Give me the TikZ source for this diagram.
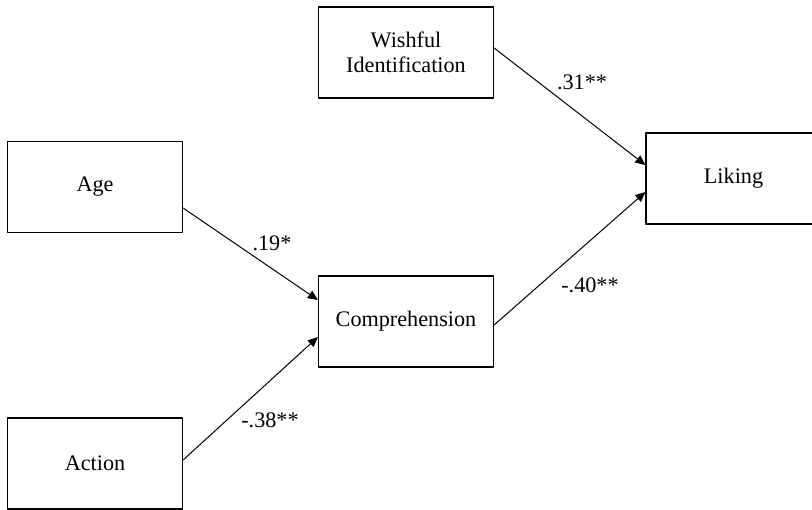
\documentclass[tikz,border=0pt]{standalone}
\usepackage{fontspec}
\setmainfont{Liberation Serif}
\usetikzlibrary{arrows.meta}

\begin{document}
\begin{tikzpicture}[
    x=0.5pt, y=-0.5pt,
    >={Triangle[length=5pt, width=4.4pt]},
    line join=round,
    font=\fontsize{11.1}{12.5}\selectfont,
    varbox/.style={draw, line width=0.6pt, minimum width=87.5pt, minimum height=45.5pt, inner sep=0pt, align=center},
    link/.style={->, line width=0.5pt},
    coef/.style={inner sep=0pt}
]

  % ==================== FRAME ====================
  \useasboundingbox (0,0) rectangle (812,509);

  % ==================== VARIABLES ====================
  \node[varbox] (wish)   at (406,52.5)   {Wishful\\Identification};
  \node[varbox] (age)    at (95,187)     {Age};
  \node[varbox] (comp)   at (406,321.5)  {Comprehension};
  \node[varbox] (liking) at (733.5,178.5) {Liking};
  \node[varbox] (action) at (95,463.5)   {Action};

  % ==================== PATHS ====================
  \draw[link] ([yshift=-10.5pt]age.east)   -- ([yshift=10.75pt]comp.west);
  \draw[link] ([yshift=1.75pt]action.east) -- ([yshift=-7.75pt]comp.west);
  \draw[link] ([yshift=2.25pt]wish.east)   -- ([yshift=6.75pt]liking.west);
  \draw[link] ([yshift=-1.75pt]comp.east)  -- ([yshift=-6.75pt]liking.west);

  % ==================== COEFFICIENTS ====================
  \node[coef] (cAge)    at (272,243) {.19*};
  \node[coef] (cAction) at (270,420) {-.38**};
  \node[coef] (cWish)   at (582,82)  {.31**};
  \node[coef] (cComp)   at (590,285) {-.40**};

\end{tikzpicture}
\end{document}
